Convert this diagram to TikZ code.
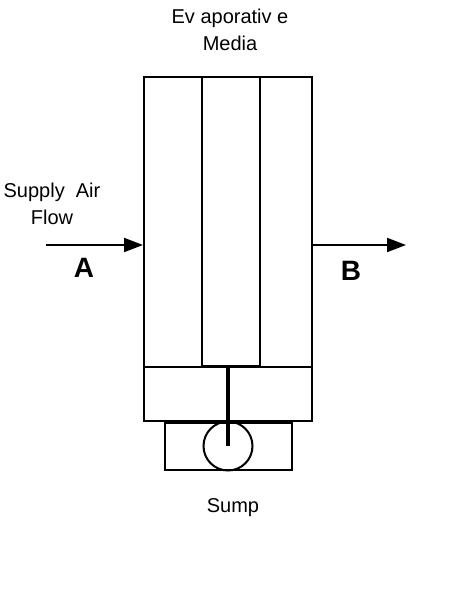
\documentclass[tikz,border=0pt]{standalone}
\usepackage{fontspec}
\setmainfont{Liberation Sans}
\usetikzlibrary{positioning,arrows.meta}
\begin{document}
\begin{tikzpicture}[x=1pt,y=-1pt,font=\fontsize{20}{27}\selectfont,
 box/.style={draw=black,line width=2pt,inner sep=0pt},
 lbl/.style={align=center,inner sep=0pt},
 big/.style={inner sep=0pt,font=\fontsize{28}{32}\selectfont\bfseries},
 flow/.style={-{Triangle[length=19pt,width=14pt]},line width=2pt}]
 \useasboundingbox (0,0) rectangle (452,600);
 \node[box,minimum width=168pt,minimum height=290pt](media) at (228,222){};
 \node[box,minimum width=58pt,minimum height=289pt](mid) at (231,221.5){};
 \node[box,minimum width=168pt,minimum height=54pt](tray) at (228,394){};
 \node[box,minimum width=127pt,minimum height=47pt](sump) at (228.5,446.5){};
 \node[box,circle,minimum size=49pt](pump) at (228,446){};
 \draw[line width=4pt](pump.center |- mid.south) -- (pump.center);
 \coordinate (inA) at (46,245);
 \coordinate (outB) at (406,245);
 \draw[flow](inA) -- (inA -| media.west);
 \draw[flow](media.east |- outB) -- (outB);
 \node[lbl](medialbl) at (230,30){Ev aporativ e\\Media};
 \node[lbl](supply) at (52,203.5){Supply\ \ Air\\Flow};
 \node[lbl](sumplbl) at (233,508){Sump};
 \node[big](a) at (84,267.5){A};
 \node[big](b) at (351,270.5){B};
\end{tikzpicture}
\end{document}
